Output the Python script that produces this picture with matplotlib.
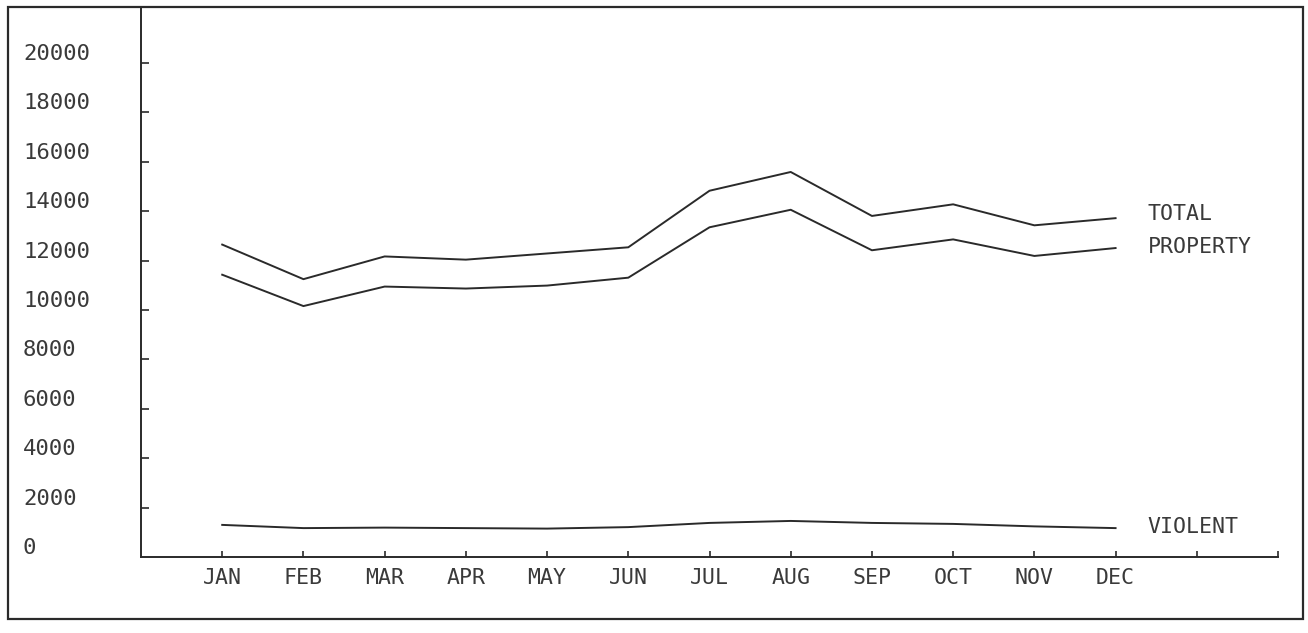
#!/usr/bin/env python3
"""
Monthly offence counts (total / property / violent), redrawn in plotter style.
"""
import matplotlib
matplotlib.use("Agg")
import matplotlib.pyplot as plt
from matplotlib.patches import Rectangle
from matplotlib.transforms import blended_transform_factory, offset_copy


MONTHS = ["JAN", "FEB", "MAR", "APR", "MAY", "JUN",
          "JUL", "AUG", "SEP", "OCT", "NOV", "DEC"]
TOTAL = [12650, 11250, 12170, 12040, 12290, 12540,
         14830, 15590, 13810, 14280, 13430, 13720]
PROPERTY = [11430, 10160, 10950, 10870, 10990, 11310,
            13350, 14060, 12420, 12860, 12190, 12510]
VIOLENT = [1300, 1170, 1190, 1170, 1150, 1210,
           1380, 1460, 1380, 1340, 1240, 1170]
Y_LABEL_VALUES = [0, 2000, 4000, 6000, 8000, 10000,
                  12000, 14000, 16000, 18000, 20000]
SERIES_NAMES = ["TOTAL", "PROPERTY", "VIOLENT"]

W_PX, H_PX = 1308, 633
INK = "#2a2a2a"
TEXT = "#3a3a3a"
FONT = ["DejaVu Sans Mono"]


def fx(px):
    return px / W_PX


def fy(px):
    # pixel row (from top) -> figure fraction
    return 1 - px / H_PX


def main():
    plt.rcParams["font.family"] = FONT
    fig = plt.figure(figsize=(W_PX / 100, H_PX / 100), dpi=100)

    # outer frame of the plotter sheet
    frame = Rectangle((fx(8), fy(619)), fx(1303) - fx(8), fy(7) - fy(619),
                      transform=fig.transFigure, fill=False,
                      edgecolor=INK, linewidth=1.6)
    fig.patches.append(frame)

    left, right, bottom, top = 141, 1278, 557, 7
    ax = fig.add_axes([fx(left), fy(bottom), fx(right) - fx(left), fy(top) - fy(bottom)])
    ax.set_xlim(0, 14)
    ax.set_ylim(0, 22270)

    x = list(range(1, len(MONTHS) + 1))
    for vals in (TOTAL, PROPERTY, VIOLENT):
        ax.plot(x, vals, color=INK, linewidth=1.4)

    # series names at the right end of the lines
    offsets = {"TOTAL": 3, "PROPERTY": 1, "VIOLENT": 1}
    for name, vals in zip(SERIES_NAMES, (TOTAL, PROPERTY, VIOLENT)):
        ax.annotate(name, xy=(x[-1], vals[-1]), xytext=(23, offsets[name]),
                    textcoords="offset points", ha="left", va="center",
                    fontsize=15.5, color=TEXT)

    for side in ("top", "right"):
        ax.spines[side].set_visible(False)
    for side in ("left", "bottom"):
        ax.spines[side].set_color(INK)
        ax.spines[side].set_linewidth(1.4)

    ax.set_xticks(range(1, 15))
    ax.set_xticklabels(MONTHS + ["", ""])
    ax.tick_params(axis="x", direction="in", length=4, width=1.2, color=INK,
                   pad=8, labelsize=15.5, labelcolor=TEXT)

    ax.set_yticks(Y_LABEL_VALUES[1:])
    ax.set_yticklabels([])
    ax.tick_params(axis="y", direction="in", length=6, width=1.2, color=INK)

    # y labels sit at the sheet's left edge, a little above each tick
    trans = offset_copy(blended_transform_factory(fig.transFigure, ax.transData),
                        fig=fig, x=0, y=9, units="dots")
    for v in Y_LABEL_VALUES:
        ax.text(fx(23), v, str(v), transform=trans, ha="left", va="center",
                fontsize=16, color=TEXT, clip_on=False)

    fig.savefig("out.png", dpi=100, facecolor="white")
    plt.close(fig)


if __name__ == "__main__":
    main()
